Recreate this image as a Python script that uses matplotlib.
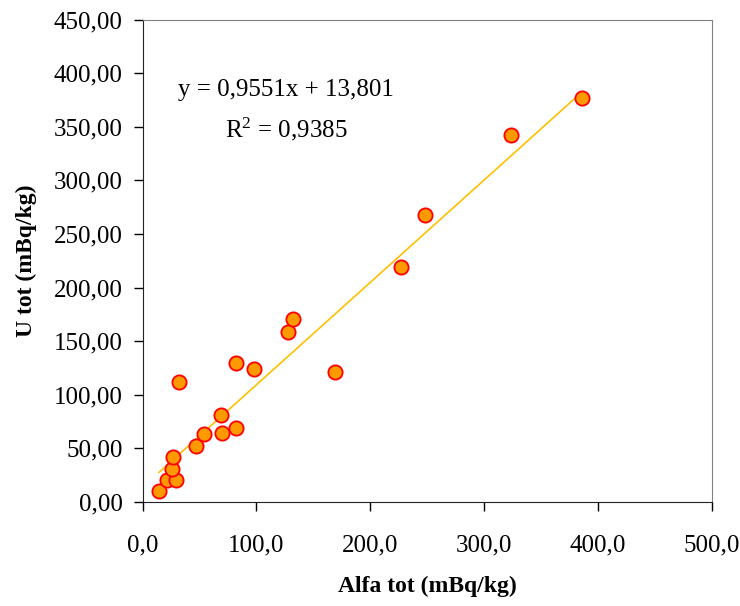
import matplotlib
matplotlib.use("Agg")
import matplotlib.pyplot as plt
import numpy as np
from matplotlib.ticker import FuncFormatter, MultipleLocator

# Alfa tot vs U tot, both in mBq/kg
alfa_tot = [14.5, 21.2, 29.1, 25.9, 26.8, 46.7, 53.7, 69.8, 69.2, 81.8,
            32.3, 81.8, 97.6, 128.0, 132.4, 169.3, 226.7, 247.8, 323.5, 385.6]
u_tot = [10.3, 20.9, 20.9, 31.2, 42.1, 52.1, 63.0, 64.5, 81.0, 68.9,
         112.1, 130.0, 124.3, 158.3, 170.5, 121.2, 219.6, 267.9, 342.7, 377.0]

# linear trend as reported
slope = 0.9551
intercept = 13.801
r_squared = 0.9385

plt.rcParams["font.family"] = ["Liberation Serif", "DejaVu Serif"]
plt.rcParams["mathtext.fontset"] = "custom"
plt.rcParams["mathtext.rm"] = "Liberation Serif"
plt.rcParams["mathtext.it"] = "Liberation Serif:italic"


def comma(fmt):
    return FuncFormatter(lambda v, pos: fmt.format(v).replace(".", ","))


fig = plt.figure(figsize=(7.4, 6.06), dpi=100)
ax = fig.add_axes([0.1926, 0.1716, 0.7694, 0.7962])

x_fit = np.array([min(alfa_tot), max(alfa_tot)])
ax.plot(x_fit, slope * x_fit + intercept, color="#FFC000", lw=1.2, zorder=2)
ax.scatter(alfa_tot, u_tot, s=105, facecolor="#FF9900", edgecolor="#FF0000",
           linewidth=1.3, zorder=3, clip_on=False)

ax.set_xlim(0, 500)
ax.set_ylim(0, 450)
ax.xaxis.set_major_locator(MultipleLocator(100))
ax.yaxis.set_major_locator(MultipleLocator(50))
ax.xaxis.set_major_formatter(comma("{:.1f}"))
ax.yaxis.set_major_formatter(comma("{:.2f}"))
ax.tick_params(direction="out", length=6.5, width=1, labelsize=18,
               colors="black")
ax.tick_params(axis="y", pad=8)
ax.tick_params(axis="x", pad=17)

for side in ("top", "right"):
    ax.spines[side].set_color("#808080")
for side in ("left", "bottom"):
    ax.spines[side].set_color("#222222")

ax.set_xlabel("Alfa tot (mBq/kg)", fontsize=17, fontweight="bold", labelpad=14)
ax.set_ylabel("U tot (mBq/kg)", fontsize=17, fontweight="bold", labelpad=12)

eq = "y = {:.4f}x + {:.3f}".format(slope, intercept).replace(".", ",")
r2 = "R$^2$ = {:.4f}".format(r_squared).replace(".", ",")
ax.text(126, 384, eq, fontsize=18, ha="center", va="center")
ax.text(126, 348, r2, fontsize=18, ha="center", va="center")

fig.savefig("out.png", dpi=100)
